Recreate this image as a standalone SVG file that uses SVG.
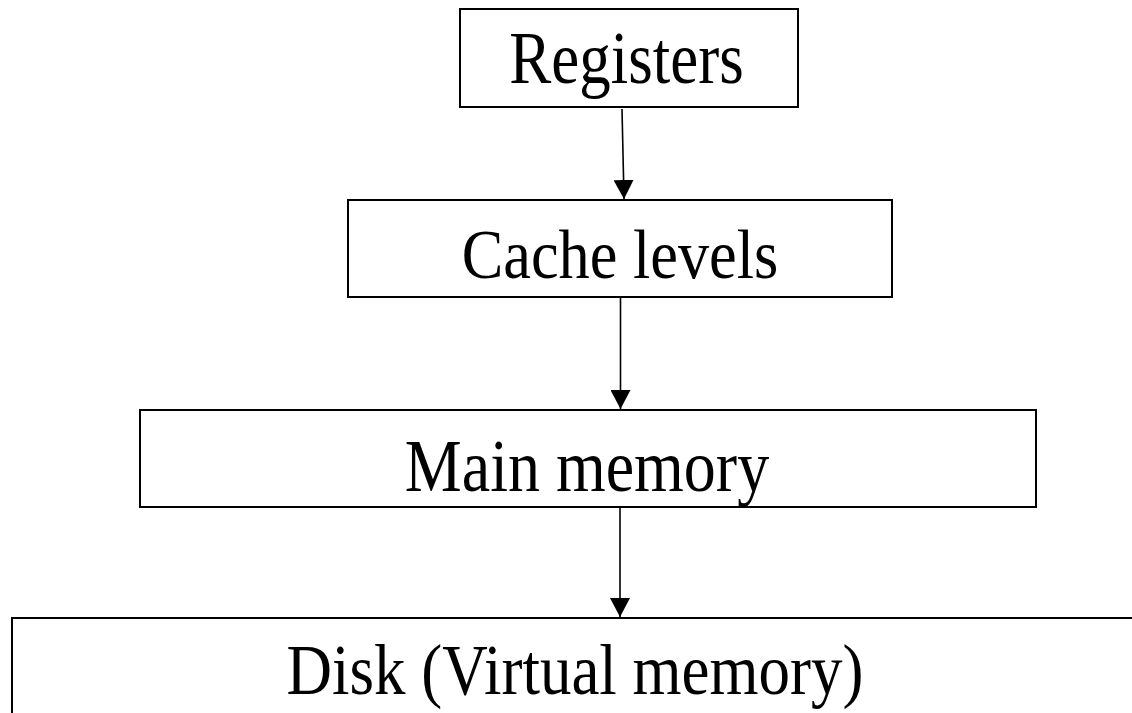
<svg xmlns="http://www.w3.org/2000/svg" width="1132" height="713" viewBox="0 0 1132 713">
<style>
.box{fill:#fff;stroke:#000;stroke-width:2}
.lbl{font-family:"Liberation Serif","Times New Roman",serif;fill:#000;text-anchor:middle}
.edge{stroke:#000;stroke-width:1.6;fill:none;marker-end:url(#ah)}
</style>
<defs>
<marker id="ah" viewBox="0 0 19 20" refX="19" refY="10" markerWidth="19" markerHeight="20" markerUnits="userSpaceOnUse" orient="auto">
<path d="M0,0 L19,10 L0,20 z" fill="#000"/>
</marker>
</defs>
<rect width="1132" height="713" fill="#fff"/>
<g id="registers">
<rect class="box" x="460" y="9" width="338" height="98"/>
<text class="lbl" font-size="63" transform="translate(626.5,83.3) scale(1,1.18)">Registers</text>
</g>
<g id="cache">
<rect class="box" x="348" y="200" width="544" height="97"/>
<text class="lbl" font-size="62.3" transform="translate(620,278) scale(1,1.13)">Cache levels</text>
</g>
<g id="main">
<rect class="box" x="140" y="410" width="896" height="97"/>
<text class="lbl" font-size="64" transform="translate(587,491) scale(1,1.14)">Main memory</text>
</g>
<g id="disk">
<rect class="box" x="12" y="618" width="1140" height="120"/>
<text class="lbl" font-size="63" transform="translate(575,694) scale(1,1.14)">Disk (Virtual memory)</text>
</g>
<g id="connectors">
<line class="edge" x1="622" y1="109" x2="624" y2="199"/>
<line class="edge" x1="620.5" y1="298" x2="620.5" y2="409"/>
<line class="edge" x1="620" y1="508" x2="620" y2="617"/>
</g>
</svg>
